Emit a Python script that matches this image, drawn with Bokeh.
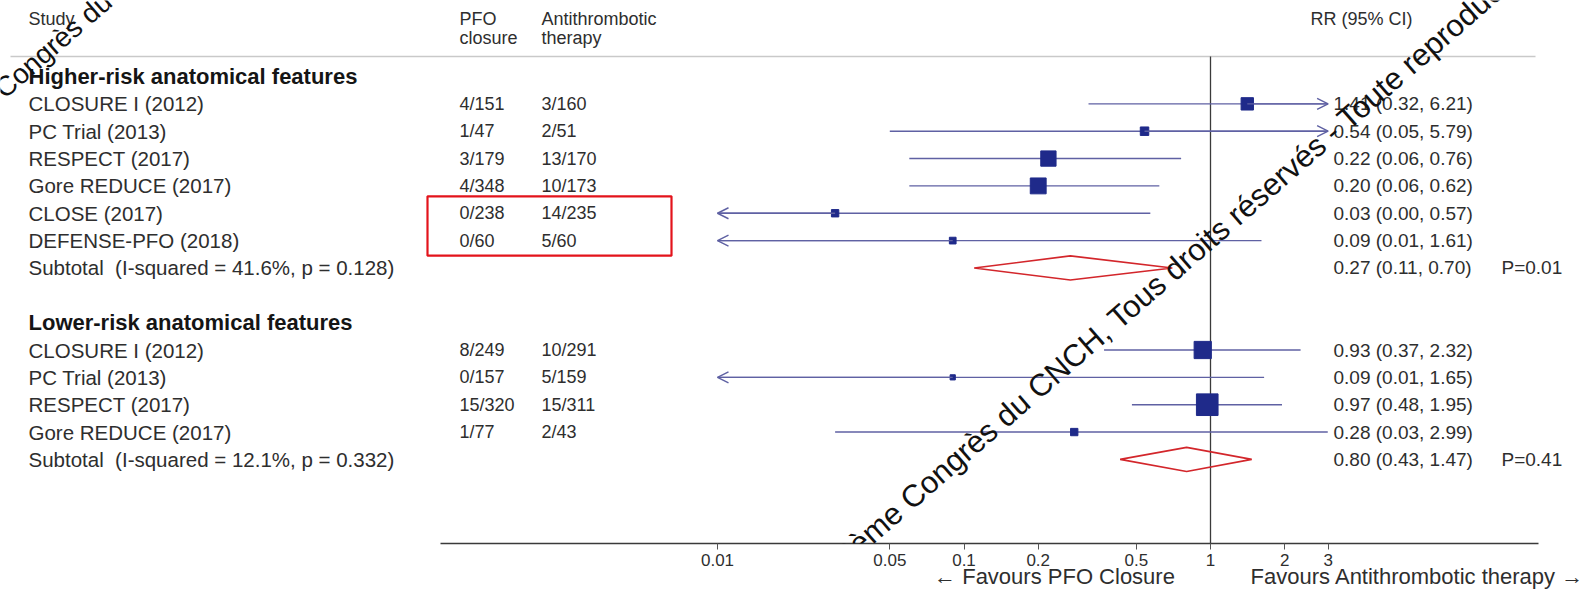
import math
from bokeh.plotting import figure
from bokeh.models import (Range1d, LogAxis, FixedTicker, ColumnDataSource, Label,
                          Arrow, OpenHead, CustomJSTickFormatter, LinearScale)
from bokeh.core.properties import value
from bokeh.embed import file_html
from bokeh.resources import INLINE

# ---------------- data ----------------
group_titles = ["Higher-risk anatomical features", "Lower-risk anatomical features"]

studies_hi = ["CLOSURE I (2012)", "PC Trial (2013)", "RESPECT (2017)",
              "Gore REDUCE (2017)", "CLOSE (2017)", "DEFENSE-PFO (2018)"]
pfo_hi = ["4/151", "1/47", "3/179", "4/348", "0/238", "0/60"]
anti_hi = ["3/160", "2/51", "13/170", "10/173", "14/235", "5/60"]
rr_hi = [1.41, 0.54, 0.22, 0.20, 0.03, 0.09]
lo_hi = [0.32, 0.05, 0.06, 0.06, 0.00, 0.01]
up_hi = [6.21, 5.79, 0.76, 0.62, 0.57, 1.61]
wt_hi = [17, 8, 26, 28, 6, 5]          # estimated study weights (%)
sub_hi = [0.27, 0.11, 0.70]
het_hi = "Subtotal\u00a0 (I-squared = 41.6%, p = 0.128)"
p_hi = "P=0.01"

studies_lo = ["CLOSURE I (2012)", "PC Trial (2013)", "RESPECT (2017)", "Gore REDUCE (2017)"]
pfo_lo = ["8/249", "0/157", "15/320", "1/77"]
anti_lo = ["10/291", "5/159", "15/311", "2/43"]
rr_lo = [0.93, 0.09, 0.97, 0.28]
lo_lo = [0.37, 0.01, 0.48, 0.03]
up_lo = [2.32, 1.65, 1.95, 2.99]
wt_lo = [33, 3, 52, 6]
sub_lo = [0.80, 0.43, 1.47]
het_lo = "Subtotal\u00a0 (I-squared = 12.1%, p = 0.332)"
p_lo = "P=0.41"

tick_values = [0.01, 0.05, 0.1, 0.2, 0.5, 1, 2, 3]
x_min, x_max = 0.01, 3

header_line1 = ["Study", "PFO", "Antithrombotic", "RR (95% CI)"]
header_line2 = ["", "closure", "therapy", ""]
favours_left = "\u2190 Favours PFO Closure"
favours_right = "Favours Antithrombotic therapy \u2192"
watermark = ("2020 \u00a9 26\u00e8me Congr\u00e8s du CNCH, Tous droits r\u00e9serv\u00e9s"
             " - Toute reproduction interdite")
watermark2 = "Congr\u00e8s du CNCH, Tous droits r\u00e9serv\u00e9s"

# ---------------- layout (page pixels) ----------------
W, H = 1594, 596
ROW0_Y, ROW_DY = 76, 27.35
AXIS_Y = 543
X1_PX, DEC_PX = 1210, 246.5
AXIS_L, AXIS_R = 440, 1538
COL_NAME, COL_PFO, COL_ANTI, COL_RR, COL_P = 28, 459, 541, 1333, 1501
HDR_X = [28, 459, 541, 1310]
WM_ANGLE = math.radians(41)

FONT = value("Liberation Sans")
FS = "20.5px"
FS_NUM = "18px"
FS_RR = "19px"
TXT = "#2e2e2e"
CI_C = "#5f61a3"
SQ_C = "#1f2a8a"
RED = "#d3262b"
BOX = "#e3131b"


def log_at(px):
    return 10 ** ((px - X1_PX) / DEC_PX)


def k_at(py):
    return (py - ROW0_Y) / ROW_DY


p = figure(width=W, height=H, output_backend="svg", toolbar_location=None,
           x_axis_type="log", x_range=Range1d(log_at(0), log_at(W)),
           y_range=Range1d(k_at(AXIS_Y), k_at(0)),
           x_axis_location=None, y_axis_location=None,
           min_border_left=0, min_border_right=0, min_border_top=0,
           min_border_bottom=H - AXIS_Y,
           outline_line_color=None, background_fill_color="white",
           border_fill_color="white")
p.grid.visible = False
p.extra_x_ranges = {"px": Range1d(0, W)}
p.extra_x_scales = {"px": LinearScale()}

# ---- rows ----
names, pfo, anti, rrtxt, ks = [], [], [], [], []
bold_names, bold_k = [], []
ci = dict(x0=[], x1=[], k=[], rr=[], sz=[])
arrows = dict(xs=[], xe=[], k=[])
dia_xs, dia_ys = [], []
ptxt, pk = [], []

groups = [
    (group_titles[0], studies_hi, pfo_hi, anti_hi, rr_hi, lo_hi, up_hi, wt_hi, sub_hi, het_hi, p_hi),
    (group_titles[1], studies_lo, pfo_lo, anti_lo, rr_lo, lo_lo, up_lo, wt_lo, sub_lo, het_lo, p_lo),
]
k = 0
for gi, (title, st, pf, an, rr, lo, up, wt, sub, het, pv) in enumerate(groups):
    bold_names.append(title)
    bold_k.append(k)
    k += 1
    for i in range(len(st)):
        names.append(st[i]); pfo.append(pf[i]); anti.append(an[i]); ks.append(k)
        rrtxt.append("%.2f (%.2f, %.2f)" % (rr[i], lo[i], up[i]))
        ci["x0"].append(max(lo[i], x_min)); ci["x1"].append(min(up[i], x_max))
        ci["k"].append(k); ci["rr"].append(rr[i]); ci["sz"].append(3.0 * math.sqrt(wt[i]))
        if lo[i] <= x_min:
            arrows["xs"].append(rr[i]); arrows["xe"].append(x_min); arrows["k"].append(k)
        if up[i] > x_max:
            arrows["xs"].append(rr[i]); arrows["xe"].append(x_max); arrows["k"].append(k)
        k += 1
    names.append(het); pfo.append(""); anti.append(""); ks.append(k)
    rrtxt.append("%.2f (%.2f, %.2f)" % tuple(sub))
    ptxt.append(pv); pk.append(k)
    dia_xs.append([sub[1], sub[0], sub[2], sub[0]])
    dia_ys.append([k, k - 0.44, k, k + 0.44])
    k += 2

# header rule and null line
p.segment(x0=[10], x1=[1535], y0=[k_at(56)], y1=[k_at(56)], x_range_name="px",
          line_color="#c9c9c9", line_width=1.5)
p.segment(x0=[1], x1=[1], y0=[k_at(56)], y1=[k_at(AXIS_Y)], line_color="#3a3a3a", line_width=1.3)

# CIs
src = ColumnDataSource(ci)
p.segment(x0="x0", x1="x1", y0="k", y1="k", source=src, line_color=CI_C, line_width=1.4)
asrc = ColumnDataSource(arrows)
p.add_layout(Arrow(end=OpenHead(size=11, line_color=CI_C, line_width=1.4),
                   x_start="xs", y_start="k", x_end="xe", y_end="k", source=asrc,
                   line_color=CI_C, line_width=1.4))
p.scatter(x="rr", y="k", size="sz", marker="square", source=src,
          fill_color=SQ_C, line_color=SQ_C)

# diamonds
p.patches(xs=dia_xs, ys=dia_ys, fill_color="white", fill_alpha=0.0,
          line_color=RED, line_width=1.6)

# text table
tsrc = ColumnDataSource(dict(n=names, pf=pfo, an=anti, rr=rrtxt, k=ks))
common = dict(source=tsrc, y="k", x_range_name="px", text_font=FONT,
              text_color=TXT, text_baseline="middle", text_align="left")
p.text(x=COL_NAME, text="n", text_font_size=FS, **common)
p.text(x=COL_PFO, text="pf", text_font_size=FS_NUM, **common)
p.text(x=COL_ANTI, text="an", text_font_size=FS_NUM, **common)
p.text(x=COL_RR, text="rr", text_font_size=FS_RR, **common)

p.text(x=COL_NAME, y=bold_k, text=bold_names, x_range_name="px", text_font=FONT,
       text_font_size="22px", text_font_style="bold", text_color="#151515",
       text_baseline="middle")
p.text(x=COL_P, y=pk, text=ptxt, x_range_name="px", text_font=FONT,
       text_font_size=FS_RR, text_color=TXT, text_baseline="middle")

# column headers
p.text(x=HDR_X, y=[k_at(18)] * 4, text=header_line1, x_range_name="px", text_font=FONT,
       text_font_size=FS_NUM, text_color=TXT, text_baseline="middle")
p.text(x=HDR_X, y=[k_at(37)] * 4, text=header_line2, x_range_name="px", text_font=FONT,
       text_font_size=FS_NUM, text_color=TXT, text_baseline="middle")

# highlight box around CLOSE and DEFENSE-PFO counts
box_rows = [ks[names.index("CLOSE (2017)")], ks[names.index("DEFENSE-PFO (2018)")]]
p.quad(left=[COL_PFO - 32], right=[COL_ANTI + 130], top=[box_rows[0] - 0.62],
       bottom=[box_rows[1] + 0.55], x_range_name="px", fill_color=None,
       line_color=BOX, line_width=2.2)

# axis with RR ticks
ax = LogAxis(ticker=FixedTicker(ticks=tick_values),
             formatter=CustomJSTickFormatter(code="return String(tick);"),
             bounds=(log_at(AXIS_L), log_at(AXIS_R)))
ax.axis_line_color = "#3a3a3a"
ax.axis_line_width = 1.5
ax.major_tick_in = 0
ax.major_tick_out = 6
ax.major_tick_line_color = "#555555"
ax.minor_tick_line_color = None
ax.major_label_standoff = 4
ax.major_label_text_font = "Liberation Sans"
ax.major_label_text_font_size = "17px"
ax.major_label_text_color = TXT
p.add_layout(ax, "below")

# second (label-only) axis carrying the "Favours" captions
fav_ticks = [log_at(1054), log_at(1417)]
ax2 = LogAxis(ticker=FixedTicker(ticks=fav_ticks),
              formatter=CustomJSTickFormatter(args=dict(l=favours_left, r=favours_right),
                                              code="return tick < 1 ? l : r;"))
ax2.axis_line_color = None
ax2.major_tick_line_color = None
ax2.minor_tick_line_color = None
ax2.major_tick_in = 0
ax2.major_tick_out = 0
ax2.major_label_standoff = -5
ax2.major_label_text_font = "Liberation Sans"
ax2.major_label_text_font_size = "22px"
ax2.major_label_text_color = TXT
p.add_layout(ax2, "below")

# watermark
p.add_layout(Label(x=744, y=k_at(642), x_range_name="px", text=watermark,
                   angle=WM_ANGLE, text_font="Liberation Sans", text_font_size="31px",
                   text_color="#111111", text_baseline="middle"))
p.add_layout(Label(x=-2, y=k_at(92), x_range_name="px", text=watermark2,
                   angle=WM_ANGLE, text_font="Liberation Sans", text_font_size="28px",
                   text_color="#111111", text_baseline="middle"))

open("out.html", "w").write(file_html(p, INLINE))
